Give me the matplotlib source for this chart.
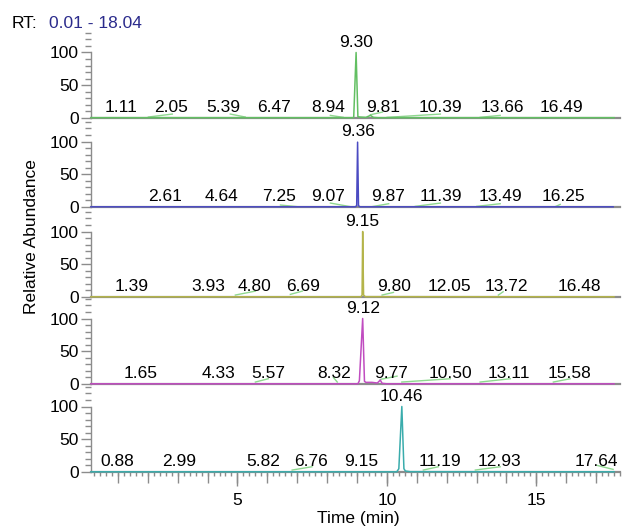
import matplotlib
matplotlib.use("Agg")
import matplotlib.pyplot as plt
from matplotlib.ticker import MultipleLocator, FuncFormatter

plt.rcParams['font.family'] = ['Liberation Sans', 'DejaVu Sans']

# traces (time in min, relative abundance)
t1 = [0.1, 8.85, 8.89, 8.97, 9.03, 9.10, 9.30, 9.45, 9.55, 9.70, 17.6]
y1 = [0.5, 0.5, 1.0, 100, 2.0, 1.5, 1.0, 4.0, 1.0, 0.5, 0.5]
t2 = [0.1, 8.94, 8.99, 9.02, 9.05, 9.10, 17.57]
y2 = [0.3, 0.3, 2.0, 99, 2.0, 0.3, 0.3]
t3 = [0.1, 9.13, 9.17, 9.19, 9.22, 9.28, 17.6]
y3 = [0.3, 0.3, 3.0, 100, 3.0, 0.5, 0.3]
t4 = [0.1, 9.03, 9.08, 9.19, 9.25, 9.30, 9.50, 9.68, 9.78, 9.84, 10.0, 17.6]
y4 = [0.3, 0.3, 5.0, 100, 4.0, 2.5, 2.5, 1.5, 6.0, 1.0, 0.3, 0.3]
t5 = [0.1, 10.33, 10.40, 10.50, 10.57, 10.62, 10.78, 17.6]
y5 = [0.3, 0.3, 5.0, 100, 5.0, 1.5, 0.5, 0.3]

# peak labels: text and where it sits on the time axis
lab1 = ["1.11", "2.05", "5.39", "6.47", "8.94", "9.81", "10.39", "13.66", "16.49"]
pos1 = [1.12, 2.79, 4.53, 6.23, 8.02, 9.86, 11.79, 13.86, 15.83]
lab2 = ["2.61", "4.64", "7.25", "9.07", "9.87", "11.39", "13.49", "16.25"]
pos2 = [2.57, 4.46, 6.40, 8.02, 10.03, 11.82, 13.79, 15.90]
lab3 = ["1.39", "3.93", "4.80", "6.69", "9.80", "12.05", "13.72", "16.48"]
pos3 = [1.47, 4.01, 5.57, 7.19, 10.25, 12.09, 13.99, 16.44]
lab4 = ["1.65", "4.33", "5.57", "8.32", "9.77", "10.50", "13.11", "15.58"]
pos4 = [1.75, 4.36, 6.02, 8.24, 10.15, 12.12, 14.09, 16.10]
lab5 = ["0.88", "2.99", "5.82", "6.76", "9.15", "11.19", "12.93", "17.64"]
pos5 = [0.97, 3.06, 5.85, 7.47, 9.14, 11.79, 13.76, 17.00]

# base peak label of each trace
top_lab = ["9.30", "9.36", "9.15", "9.12", "10.46"]

# small green label connectors: (t0, y0, t1, y1)
con1 = [(2.02, 1.5, 2.82, 6), (4.76, 6, 5.26, 1.5), (8.11, 4, 8.54, 1),
        (9.45, 5, 9.85, 9), (10.01, 1, 11.79, 6), (13.12, 1, 13.79, 4)]
con2 = [(6.44, 3, 7.0, 0.5), (8.11, 6, 8.78, 0.5), (9.50, 0.5, 10.06, 5),
        (10.95, 1, 11.79, 6), (13.01, 1, 13.79, 5), (15.63, 0.5, 15.80, 4)]
con3 = [(4.93, 3, 5.60, 9), (6.77, 4, 7.17, 9), (9.84, 3, 10.22, 7),
        (13.73, 3, 13.89, 8)]
con4 = [(5.60, 3, 6.03, 8), (8.21, 10, 8.34, 3), (9.78, 7, 10.34, 12),
        (10.50, 3, 12.12, 8), (13.12, 3, 14.13, 8), (15.57, 3, 16.13, 8)]
con5 = [(6.83, 3, 7.49, 8), (11.22, 3, 11.72, 8), (12.96, 3, 13.79, 8),
        (17.04, 10, 17.57, 4)]

colors = ["#62bf62", "#4b4bc2", "#b4b44a", "#c04cc0", "#3aacac"]
baselines_px = [118, 207, 297, 384, 472]

traces = [(t1, y1), (t2, y2), (t3, y3), (t4, y4), (t5, y5)]
labels = [(lab1, pos1), (lab2, pos2), (lab3, pos3), (lab4, pos4), (lab5, pos5)]
conns = [con1, con2, con3, con4, con5]

W, H = 622, 527
fig = plt.figure(figsize=(W / 100, H / 100), dpi=100)

px_per_unit = 0.655
ylo, yhi = -1.5, 132
gray = "#8c8c8c"
fs = 12.5

for i in range(5):
    b = baselines_px[i]
    bottom = b + (-ylo) * px_per_unit
    height = (yhi - ylo) * px_per_unit
    ax = fig.add_axes([91 / W, 1 - bottom / H, 529 / W, height / H])
    ax.set_xlim(0.1, 17.8)
    ax.set_ylim(ylo, yhi)
    ax.patch.set_alpha(0)
    for s in ["top", "right"]:
        ax.spines[s].set_visible(False)
    ax.spines["bottom"].set_position(("data", 0))
    ax.spines["left"].set_bounds(0, 100)
    ax.spines["bottom"].set_color(gray)
    ax.spines["left"].set_color(gray)
    ax.spines["bottom"].set_linewidth(1.6)
    ax.spines["left"].set_linewidth(1.0)

    ax.set_yticks([0, 50, 100])
    ax.yaxis.set_minor_locator(MultipleLocator(10))
    ax.tick_params(axis="y", which="major", length=7, width=1, color=gray,
                   labelsize=fs, pad=2)
    ax.tick_params(axis="y", which="minor", length=4, width=1, color=gray)

    t, y = traces[i]
    ax.plot(t, y, color=colors[i], lw=1.1, clip_on=False, zorder=3)

    for (a0, b0, a1, b1) in conns[i]:
        ax.plot([a0, a1], [b0, b1], color="#8fd88f", lw=1.0, zorder=2)

    labs, pos = labels[i]
    for s, p in zip(labs, pos):
        ax.text(p, 16.5, s, ha="center", va="center", fontsize=fs)
    k = y.index(max(y))
    ax.text(t[k], 116, top_lab[i], ha="center", va="center", fontsize=fs)

    if i < 4:
        ax.set_xticks([])
    else:
        ax.xaxis.set_major_locator(MultipleLocator(5))
        ax.xaxis.set_minor_locator(MultipleLocator(0.2))
        ax.xaxis.set_major_formatter(FuncFormatter(lambda v, p: f"{v:g}"))
        ax.tick_params(axis="x", which="major", length=10, width=1,
                       color=gray, labelsize=fs, pad=5)
        ax.tick_params(axis="x", which="minor", length=3, width=1, color=gray)
        sec = ax.secondary_xaxis(0)
        sec.xaxis.set_major_locator(MultipleLocator(1))
        sec.tick_params(axis="x", length=7, width=1, color=gray, labelbottom=False)
        sec.spines["bottom"].set_visible(False)

fig.text(12 / W, 1 - 23 / H, "RT:", fontsize=fs, va="center", ha="left")
fig.text(49 / W, 1 - 23 / H, "0.01 - 18.04", fontsize=fs, va="center",
         ha="left", color="#2b2b8c")
fig.text(32 / W, 1 - 237 / H, "Relative Abundance", fontsize=fs,
         rotation=90, va="center", ha="center")
fig.text(358 / W, 1 - 518 / H, "Time (min)", fontsize=fs, va="center",
         ha="center")

fig.savefig("out.png", dpi=100)
